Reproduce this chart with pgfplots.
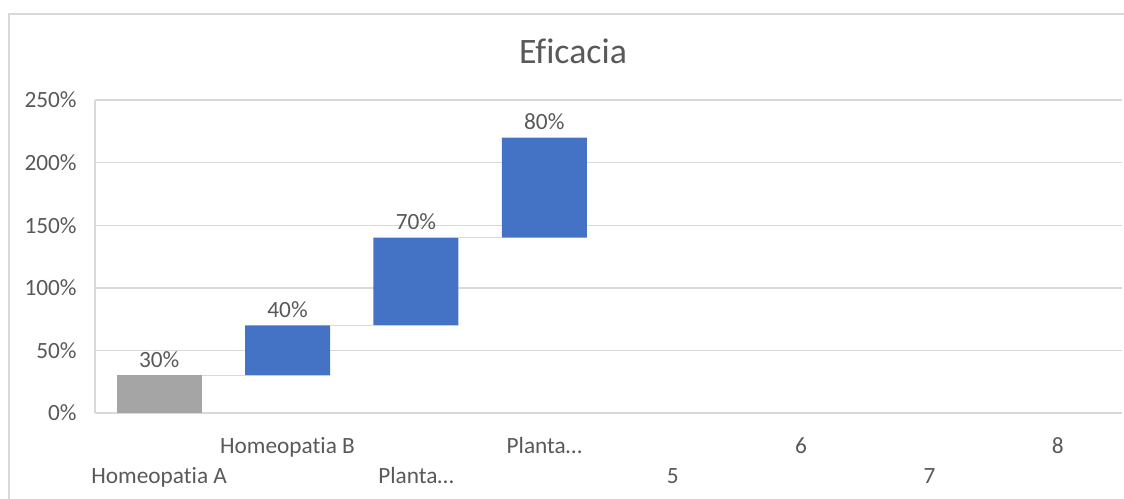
\documentclass[border=0pt]{standalone}
\usepackage{pgfplots}
\pgfplotsset{compat=1.18}
\usepackage{fontspec}
\setmainfont{Carlito}[Ligatures=NoCommon]
\definecolor{txt}{HTML}{595959}
\definecolor{gridc}{HTML}{D9D9D9}
\definecolor{xblue}{HTML}{4472C4}
\definecolor{xgray}{HTML}{A5A5A5}
\begin{document}
\begin{tikzpicture}
\useasboundingbox (0,0) rectangle (562pt,-249pt);
\draw[gridc, line width=0.7pt] (4.5pt,-260pt) -- (4.5pt,-7pt) -- (562pt,-7pt);
\node[anchor=base, text=txt, inner sep=0pt, font=\fontsize{17.9pt}{21pt}\selectfont] at (286.5pt,-31.5pt) {Eficacia};
\pgfplotsset{common/.style={at={(47.5pt,-206.5pt)}, anchor=south west,
  width=513.5pt, height=156.5pt, scale only axis,
  xmin=0.5, xmax=8.5, ymin=0, ymax=250}}
\begin{axis}[common, ybar stacked, bar width=42.5pt,
  axis y line*=left, axis x line*=bottom,
  x axis line style={draw=none}, y axis line style={draw=gridc, line width=0.7pt},
  ymajorgrids, grid style={draw=gridc, line width=0.7pt},
  major tick length=0pt,
  ytick={0,50,100,150,200,250},
  yticklabel={\pgfmathprintnumber{\tick}\%},
  /pgf/number format/assume math mode=true,
  yticklabel style={anchor=east, inner sep=0pt, xshift=-9pt, text=txt, font=\fontsize{11.65pt}{14pt}\selectfont},
  xtick={1,2,3,4,5,6,7,8},
  xticklabels={{\raisebox{-15pt}{Homeopatia A}}, Homeopatia B, {\raisebox{-15pt}{Planta…}}, Planta…, {\raisebox{-15pt}{5}}, 6, {\raisebox{-15pt}{7}}, 8},
  xticklabel style={anchor=base, inner sep=0pt, yshift=-20pt, text=txt, font=\fontsize{11.65pt}{14pt}\selectfont},
]
\addplot[draw=none, fill=none] coordinates {(1,0) (2,30) (3,70) (4,140)};
\addplot[draw=none, fill=xgray] coordinates {(1,30) (2,0) (3,0) (4,0)};
\addplot[draw=none, fill=xblue] coordinates {(1,0) (2,40) (3,70) (4,80)};
\end{axis}
\begin{axis}[common, hide axis, clip=false]
\addplot[gridc, line width=0.6pt, unbounded coords=jump, mark=none]
  coordinates {(1.331,30) (1.669,30) (2,nan) (2.331,70) (2.669,70) (3,nan) (3.331,140) (3.669,140)};
\addplot[draw=none, mark=none, nodes near coords, point meta=explicit symbolic,
  every node near coord/.style={anchor=base, inner sep=0pt, yshift=4pt, text=txt, font=\fontsize{11.65pt}{14pt}\selectfont}]
  coordinates {(1,30) [30\%] (2,70) [40\%] (3,140) [70\%] (4,220) [80\%]};
\end{axis}
\end{tikzpicture}
\end{document}
